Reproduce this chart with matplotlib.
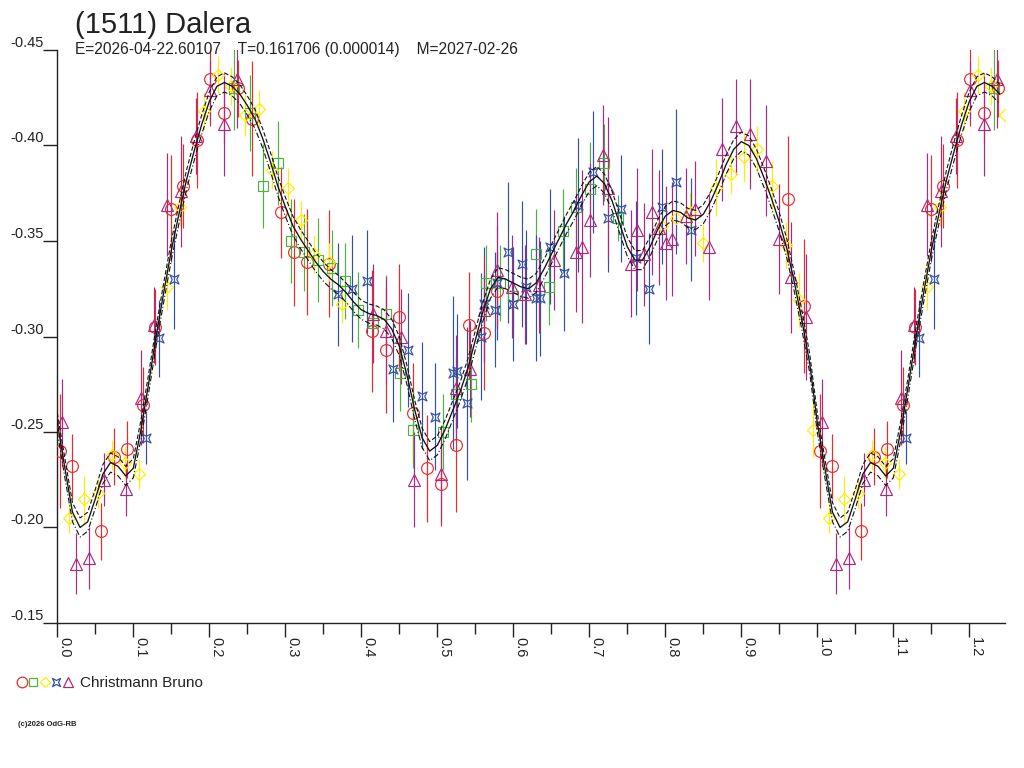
import numpy as np
import matplotlib
matplotlib.use("Agg")
import matplotlib.pyplot as plt
from matplotlib.lines import Line2D
from matplotlib.legend_handler import HandlerTuple
from matplotlib.path import Path
from matplotlib.ticker import MultipleLocator, FormatStrFormatter

plt.rcParams['font.family'] = ['Liberation Sans', 'DejaVu Sans']

# ---- data (phase, magnitude, error) read from the lightcurve ----
red_ph = [0.003, 0.020, 0.057, 0.075, 0.092, 0.113, 0.128, 0.149, 0.166, 0.184,
          0.201, 0.220, 0.238, 0.256, 0.294, 0.311, 0.329, 0.357, 0.414, 0.432,
          0.449, 0.468, 0.487, 0.505, 0.524, 0.542, 0.561, 0.579, 0.962, 0.983]
red_mag = [-0.240, -0.232, -0.198, -0.237, -0.241, -0.264, -0.305, -0.367, -0.379, -0.403,
           -0.435, -0.417, -0.430, -0.414, -0.365, -0.344, -0.339, -0.338, -0.303, -0.293,
           -0.310, -0.260, -0.231, -0.223, -0.243, -0.306, -0.302, -0.324, -0.372, -0.316]
red_err = [0.030, 0.017, 0.015, 0.015, 0.015, 0.020, 0.020, 0.028, 0.022, 0.025,
           0.025, 0.016, 0.015, 0.030, 0.024, 0.028, 0.028, 0.028, 0.032, 0.033,
           0.028, 0.026, 0.028, 0.022, 0.035, 0.028, 0.030, 0.020, 0.033, 0.035]

green_ph = [0.233, 0.253, 0.271, 0.290, 0.308, 0.325, 0.343, 0.361, 0.379, 0.396,
            0.416, 0.433, 0.451, 0.468, 0.507, 0.525, 0.544, 0.564, 0.583, 0.600,
            0.630, 0.647, 0.666, 0.683, 0.701, 0.720, 0.738]
green_mag = [-0.430, -0.417, -0.379, -0.391, -0.350, -0.344, -0.340, -0.336, -0.329, -0.314,
             -0.307, -0.312, -0.281, -0.251, -0.250, -0.270, -0.275, -0.328, -0.328, -0.321,
             -0.343, -0.326, -0.355, -0.368, -0.377, -0.391, -0.362]
green_err = [0.022, 0.020, 0.022, 0.022, 0.022, 0.020, 0.022, 0.020, 0.020, 0.020,
             0.020, 0.020, 0.020, 0.020, 0.020, 0.020, 0.020, 0.020, 0.020, 0.020,
             0.024, 0.020, 0.022, 0.020, 0.025, 0.020, 0.012]

yellow_ph = [0.016, 0.035, 0.053, 0.072, 0.089, 0.107, 0.145, 0.162, 0.193, 0.211,
             0.229, 0.247, 0.266, 0.283, 0.303, 0.321, 0.338, 0.358, 0.375, 0.796,
             0.814, 0.832, 0.849, 0.867, 0.886, 0.903, 0.921, 0.941, 0.959, 0.976, 0.995]
yellow_mag = [-0.205, -0.215, -0.218, -0.238, -0.234, -0.228, -0.326, -0.368, -0.418, -0.437,
              -0.431, -0.416, -0.419, -0.387, -0.378, -0.361, -0.343, -0.339, -0.317, -0.358,
              -0.362, -0.365, -0.349, -0.378, -0.385, -0.394, -0.398, -0.379, -0.348, -0.319, -0.251]
yellow_err = [0.008, 0.012, 0.008, 0.008, 0.008, 0.008, 0.012, 0.010, 0.010, 0.010,
              0.010, 0.011, 0.010, 0.010, 0.010, 0.010, 0.010, 0.010, 0.010, 0.010,
              0.010, 0.010, 0.010, 0.015, 0.010, 0.013, 0.012, 0.013, 0.012, 0.014, 0.014]

blue_ph = [0.117, 0.134, 0.154, 0.370, 0.388, 0.407, 0.442, 0.461, 0.480, 0.497,
           0.521, 0.526, 0.539, 0.558, 0.562, 0.576, 0.578, 0.593, 0.599, 0.612,
           0.617, 0.630, 0.635, 0.648, 0.667, 0.685, 0.705, 0.724, 0.742, 0.761,
           0.778, 0.796, 0.814, 0.834]
blue_mag = [-0.247, -0.299, -0.330, -0.322, -0.325, -0.329, -0.283, -0.293, -0.269, -0.258,
            -0.281, -0.282, -0.265, -0.300, -0.317, -0.314, -0.328, -0.344, -0.317, -0.338,
            -0.326, -0.320, -0.320, -0.347, -0.333, -0.369, -0.386, -0.362, -0.367, -0.341,
            -0.325, -0.368, -0.381, -0.356]
blue_err = [0.014, 0.020, 0.026, 0.027, 0.028, 0.027, 0.028, 0.030, 0.028, 0.028,
            0.040, 0.030, 0.040, 0.033, 0.030, 0.030, 0.030, 0.037, 0.030, 0.033,
            0.030, 0.033, 0.030, 0.030, 0.030, 0.035, 0.032, 0.028, 0.028, 0.030,
            0.029, 0.030, 0.038, 0.027]

purple_ph = [0.006, 0.025, 0.042, 0.062, 0.091, 0.110, 0.127, 0.145, 0.163, 0.183,
             0.201, 0.219, 0.237, 0.416, 0.433, 0.452, 0.470, 0.505, 0.525, 0.543,
             0.562, 0.578, 0.598, 0.616, 0.634, 0.654, 0.683, 0.690, 0.701, 0.718,
             0.725, 0.755, 0.763, 0.772, 0.782, 0.792, 0.801, 0.809, 0.827, 0.839,
             0.857, 0.875, 0.893, 0.912, 0.932, 0.949, 0.966, 0.985]
purple_mag = [-0.255, -0.181, -0.184, -0.225, -0.220, -0.268, -0.306, -0.369, -0.376, -0.405,
              -0.429, -0.411, -0.435, -0.312, -0.303, -0.300, -0.225, -0.228, -0.273, -0.283,
              -0.314, -0.335, -0.326, -0.322, -0.327, -0.340, -0.344, -0.347, -0.361, -0.395,
              -0.378, -0.338, -0.356, -0.343, -0.365, -0.357, -0.349, -0.351, -0.363, -0.367,
              -0.347, -0.398, -0.410, -0.406, -0.392, -0.351, -0.331, -0.310]
purple_err = [0.023, 0.016, 0.016, 0.014, 0.014, 0.025, 0.020, 0.027, 0.029, 0.020,
              0.015, 0.027, 0.026, 0.026, 0.028, 0.025, 0.025, 0.025, 0.028, 0.025,
              0.028, 0.030, 0.027, 0.026, 0.025, 0.026, 0.031, 0.040, 0.030, 0.026,
              0.037, 0.028, 0.032, 0.027, 0.033, 0.030, 0.030, 0.030, 0.025, 0.025,
              0.028, 0.027, 0.025, 0.029, 0.029, 0.029, 0.029, 0.033]

# fitted curve, phase 0.00 .. 0.99 in steps of 0.01
fit_mag = [-0.255, -0.231, -0.208, -0.200, -0.203, -0.215, -0.228, -0.234, -0.232, -0.227,
           -0.231, -0.251, -0.275, -0.300, -0.323, -0.345, -0.364, -0.382, -0.397, -0.411,
           -0.423, -0.431, -0.433, -0.431, -0.427, -0.421, -0.414, -0.404, -0.392, -0.379,
           -0.368, -0.358, -0.351, -0.345, -0.339, -0.334, -0.330, -0.327, -0.323, -0.318,
           -0.314, -0.312, -0.311, -0.309, -0.304, -0.295, -0.280, -0.262, -0.247, -0.240,
           -0.243, -0.251, -0.261, -0.271, -0.283, -0.298, -0.313, -0.325, -0.331, -0.330,
           -0.328, -0.326, -0.325, -0.328, -0.335, -0.343, -0.351, -0.359, -0.366, -0.374,
           -0.381, -0.384, -0.380, -0.371, -0.359, -0.347, -0.340, -0.340, -0.347, -0.356,
           -0.363, -0.366, -0.365, -0.362, -0.361, -0.364, -0.371, -0.380, -0.390, -0.398,
           -0.402, -0.400, -0.393, -0.383, -0.372, -0.360, -0.346, -0.328, -0.308, -0.286]
fit_ph = np.arange(len(fit_mag)) / 100.0
FIT_SIGMA = 0.005

XMAX = 1.247

# concave square marker used for the 4th session
hg = Path([(-1, -1), (0, -0.5), (1, -1), (0.5, 0), (1, 1), (0, 0.5), (-1, 1), (-0.5, 0), (-1, -1)],
          [Path.MOVETO] + [Path.LINETO] * 7 + [Path.CLOSEPOLY])

sessions = [
    (red_ph, red_mag, red_err, '#f02828', 'o', 8.5),
    (green_ph, green_mag, green_err, '#4cb43c', 's', 7.0),
    (yellow_ph, yellow_mag, yellow_err, '#ffec00', 'D', 6.2),
    (blue_ph, blue_mag, blue_err, '#3250aa', hg, 6.5),
    (purple_ph, purple_mag, purple_err, '#b0287c', '^', 8.0),
]


def wrap(ph, *cols):
    # repeat the first part of the cycle after phase 1
    ph = np.asarray(ph)
    m = ph + 1 <= XMAX
    out = [np.concatenate([ph, ph[m] + 1])]
    for c in cols:
        c = np.asarray(c)
        out.append(np.concatenate([c, c[m]]))
    return out


fig = plt.figure(figsize=(10.24, 7.68), dpi=100)
ax = fig.add_axes([57.3 / 1024, 1 - 623 / 768, (1005 - 57.3) / 1024, (623 - 50) / 768])

for ph, mag, err, col, mk, ms in sessions:
    x, y, e = wrap(ph, mag, err)
    ax.errorbar(x, y, yerr=e, fmt='none', ecolor=col, elinewidth=0.85, capsize=0, zorder=2)
    ax.plot(x, y, ls='none', marker=mk, mfc='none', mec=col, mew=0.85, ms=ms, zorder=3)

fx, fy = wrap(fit_ph, fit_mag)
ax.plot(fx, fy, color='#111111', lw=0.95, zorder=4)
ax.plot(fx, fy - FIT_SIGMA, color='#111111', lw=0.8, dashes=(4, 2), zorder=4)
ax.plot(fx, fy + FIT_SIGMA, color='#111111', lw=0.8, dashes=(5, 2, 1, 2), zorder=4)

ax.set_xlim(0, XMAX)
ax.set_ylim(-0.15, -0.45)
for s in ['top', 'right']:
    ax.spines[s].set_visible(False)
for s in ['left', 'bottom']:
    ax.spines[s].set_color('#222222')
    ax.spines[s].set_linewidth(1.0)

ax.xaxis.set_major_locator(MultipleLocator(0.1))
ax.xaxis.set_minor_locator(MultipleLocator(0.05))
ax.xaxis.set_major_formatter(FormatStrFormatter('%.1f'))
ax.set_yticks([-0.45, -0.40, -0.35, -0.30, -0.25, -0.20, -0.15])
ax.yaxis.set_major_formatter(FormatStrFormatter('%.2f'))
ax.tick_params(axis='x', which='major', length=10, width=1, pad=0, labelsize=10.5,
               labelcolor='#222222', color='#222222')
ax.tick_params(axis='x', which='minor', length=8, width=1, color='#222222')
ax.tick_params(axis='y', length=10, width=1, pad=0, labelsize=10.5,
               labelcolor='#222222', color='#222222')
for lbl in ax.get_xticklabels():
    lbl.set_rotation(-90)
    lbl.set_ha('left')
    lbl.set_va('top')
for lbl in ax.get_yticklabels():
    lbl.set_va('bottom')

fig.text(75 / 1024, 1 - 33 / 768, '(1511) Dalera', fontsize=21, color='#222222', va='baseline')
fig.text(75 / 1024, 1 - 54 / 768,
         'E=2026-04-22.60107    T=0.161706 (0.000014)    M=2027-02-26',
         fontsize=11.2, color='#222222', va='baseline')

handles = tuple(Line2D([], [], ls='none', marker=mk, mfc='none', mec=col, mew=0.9, ms=ms * 0.9)
                for _, _, _, col, mk, ms in sessions)
fig.legend([handles], ['Christmann Bruno'], handler_map={tuple: HandlerTuple(ndivide=None, pad=0)},
           loc='center left', bbox_to_anchor=(16 / 1024, 1 - 683 / 768), frameon=False,
           fontsize=11, handlelength=3.76, handletextpad=0.4, borderpad=0, borderaxespad=0,
           labelcolor='#222222')

fig.text(18 / 1024, 1 - 725 / 768, '(c)2026 OdG-RB', fontsize=5.5, fontweight='bold',
         color='#222222', va='center')

fig.savefig('out.png', dpi=100)
